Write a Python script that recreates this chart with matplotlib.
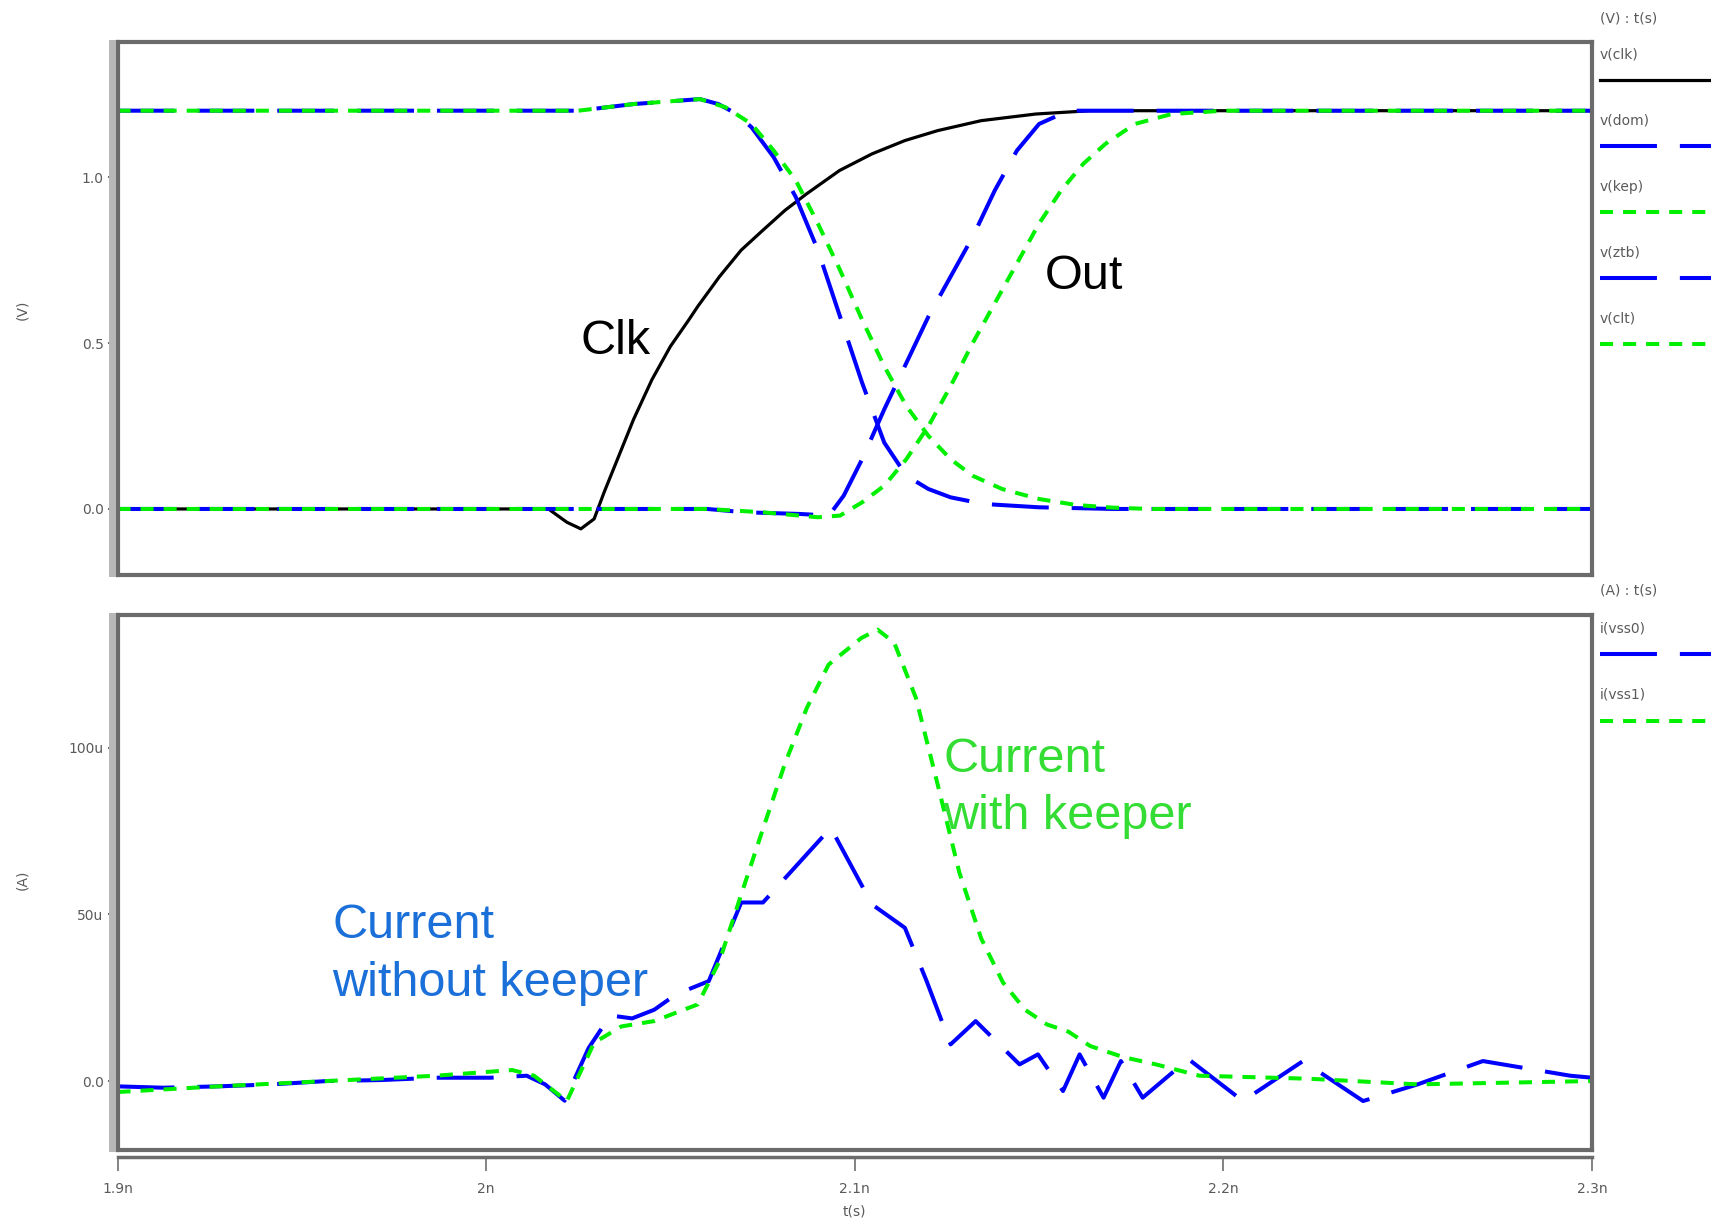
import matplotlib
matplotlib.use('Agg')
import matplotlib.pyplot as plt
from matplotlib.lines import Line2D
from matplotlib.patches import Rectangle

plt.rcParams['lines.scale_dashes'] = False

# --- waveform data (time in ns, voltage in V, current in uA) ---
clk_t = [1.9, 2.0169, 2.0219, 2.0257, 2.0293, 2.032, 2.036, 2.04, 2.045, 2.05, 2.055, 2.0574,
         2.0633, 2.0692, 2.0751, 2.0811, 2.087, 2.0959, 2.1047, 2.1136, 2.1225, 2.1343, 2.1491,
         2.1639, 2.3]
clk_v = [0, 0, -0.04, -0.06, -0.03, 0.05, 0.16, 0.27, 0.39, 0.49, 0.57, 0.61,
         0.70, 0.78, 0.84, 0.90, 0.95, 1.02, 1.07, 1.11, 1.14, 1.17, 1.19,
         1.2, 1.2]

dom_t = [1.9, 2.025, 2.04, 2.058, 2.063, 2.068, 2.072, 2.078, 2.084, 2.09, 2.096, 2.102,
         2.108, 2.114, 2.12, 2.126, 2.135, 2.15, 2.17, 2.3]
dom_v = [1.2, 1.2, 1.22, 1.235, 1.22, 1.19, 1.15, 1.06, 0.94, 0.78, 0.58, 0.38,
         0.2, 0.1, 0.06, 0.035, 0.015, 0.005, 0, 0]

kep_t = [1.9, 2.025, 2.04, 2.058, 2.065, 2.072, 2.078, 2.084, 2.09, 2.096, 2.102, 2.108,
         2.114, 2.12, 2.126, 2.132, 2.14, 2.15, 2.16, 2.17, 2.18, 2.3]
kep_v = [1.2, 1.2, 1.22, 1.235, 1.21, 1.16, 1.08, 0.99, 0.86, 0.72, 0.57, 0.43,
         0.31, 0.22, 0.15, 0.1, 0.06, 0.03, 0.012, 0.004, 0, 0]

ztb_t = [1.9, 2.06, 2.07, 2.085, 2.093, 2.097, 2.102, 2.108, 2.114, 2.12, 2.126, 2.132,
         2.138, 2.144, 2.15, 2.158, 2.3]
ztb_v = [0, 0, -0.01, -0.015, -0.02, 0.04, 0.15, 0.30, 0.44, 0.58, 0.70, 0.82,
         0.96, 1.08, 1.16, 1.2, 1.2]

clt_t = [1.9, 2.06, 2.075, 2.09, 2.096, 2.102, 2.108, 2.114, 2.12, 2.126, 2.132, 2.138,
         2.144, 2.15, 2.156, 2.162, 2.168, 2.176, 2.186, 2.2, 2.3]
clt_v = [0, 0, -0.01, -0.025, -0.02, 0.02, 0.07, 0.15, 0.25, 0.37, 0.5, 0.62,
         0.74, 0.86, 0.96, 1.04, 1.1, 1.16, 1.19, 1.2, 1.2]

i0_t = [1.9, 1.9124, 1.9272, 1.942, 1.9568, 1.9716, 1.9864, 2.0012, 2.011, 2.016, 2.0213,
        2.0278, 2.0337, 2.0396, 2.0456, 2.0515, 2.0604, 2.0692, 2.0751, 2.0935, 2.1047,
        2.1136, 2.1195, 2.126, 2.1328, 2.1447, 2.1497, 2.1565, 2.161, 2.1675, 2.1722,
        2.1781, 2.1905, 2.2053, 2.2216, 2.2379, 2.2527, 2.2704, 2.2941, 2.3]
i0_a = [-1.6, -2, -1.6, -1, 0, 0.3, 1, 1, 1.6, -1, -5.9,
        9.9, 19.7, 18.8, 21.4, 26, 30, 53.6, 53.6, 76, 53,
        46, 30, 11, 18, 5, 8, -3, 8, -5, 6,
        -5, 6.6, -6, 6, -6, -1, 6, 1.6, 1]

i1_t = [1.9, 1.9272, 1.9568, 1.9864, 2.0071, 2.013, 2.0219, 2.0293, 2.0367, 2.0456, 2.0574,
        2.0633, 2.0692, 2.0751, 2.0811, 2.087, 2.0929, 2.1018, 2.1062, 2.1107, 2.1166,
        2.1225, 2.1284, 2.1343, 2.1402, 2.1462, 2.1521, 2.158, 2.1639, 2.1728, 2.1817,
        2.1935, 2.2231, 2.2527, 2.3]
i1_a = [-3.3, -1.6, 0, 1.6, 3.3, 1.6, -6, 11.5, 16.4, 18, 23,
        36, 56, 75.7, 95.4, 112, 125, 133, 135.5, 131.6, 115,
        89, 62.5, 42.8, 29.6, 21.4, 17, 14.8, 10.5, 7.2, 5,
        1.6, 0.7, -1, 0]

x_ticks = [1.9, 2.0, 2.1, 2.2, 2.3]
x_labels = ['1.9n', '2n', '2.1n', '2.2n', '2.3n']
v_ticks = [0.0, 0.5, 1.0]
v_labels = ['0.0', '0.5', '1.0']
i_ticks = [0, 50, 100]
i_labels = ['0.0', '50u', '100u']

W, H = 1711, 1229
BLUE = '#0000ff'
GREEN = '#00f000'
FRAME = '#6b6b6b'
TXT = '#5a5a5a'
BLUE_DASH = (41, 16.5)
GREEN_DOT = (9.4, 7.2)


def fx(px):
    return px / W


def fy(py):
    return 1 - py / H


fig = plt.figure(figsize=(W / 100, H / 100), dpi=100)
ax1 = fig.add_axes([fx(117.5), fy(575), (1592 - 117.5) / W, (575 - 42) / H])
ax2 = fig.add_axes([fx(117.5), fy(1150), (1592 - 117.5) / W, (1150 - 615) / H])

for ax in (ax1, ax2):
    ax.set_xlim(1.9, 2.3)
    for s in ax.spines.values():
        s.set_color(FRAME)
        s.set_linewidth(3)
    ax.tick_params(axis='y', length=7, width=1.5, color=FRAME, pad=3,
                   labelsize=10, labelcolor=TXT)

# voltage panel
ax1.plot(clk_t, clk_v, color='black', lw=2.3)
ax1.plot(dom_t, dom_v, color=BLUE, lw=2.9, dashes=BLUE_DASH)
ax1.plot(kep_t, kep_v, color=GREEN, lw=2.9, dashes=GREEN_DOT)
ax1.plot(ztb_t, ztb_v, color=BLUE, lw=2.9, dashes=BLUE_DASH)
ax1.plot(clt_t, clt_v, color=GREEN, lw=2.9, dashes=GREEN_DOT)
ax1.set_ylim(-0.199, 1.407)
ax1.set_yticks(v_ticks)
ax1.set_yticklabels(v_labels)
ax1.set_xticks([])
ax1.text(2.035, 0.505, 'Clk', fontsize=35, family='Liberation Sans', ha='center', va='center')
ax1.text(2.1515, 0.70, 'Out', fontsize=35, family='Liberation Sans', ha='left', va='center')

# current panel
ax2.plot(i0_t, i0_a, color=BLUE, lw=2.9, dashes=BLUE_DASH)
ax2.plot(i1_t, i1_a, color=GREEN, lw=2.9, dashes=GREEN_DOT)
ax2.set_ylim(-20.7, 139.9)
ax2.set_yticks(i_ticks)
ax2.set_yticklabels(i_labels)
ax2.spines['bottom'].set_position(('outward', 5))
ax2.spines['bottom'].set_linewidth(2.5)
ax2.plot([0, 1], [0, 0], transform=ax2.transAxes, color=FRAME, lw=3, clip_on=False)
ax2.set_xticks(x_ticks)
ax2.set_xticklabels(x_labels)
ax2.tick_params(axis='x', length=10, width=1.3, color='#7a7a7a', pad=8,
                labelsize=10, labelcolor=TXT)
ax2.set_xlabel('t(s)', fontsize=10, color=TXT, labelpad=6)
ax2.text(2.124, 88.0, 'Current\nwith keeper', fontsize=35, family='Liberation Sans',
         color='#33dd33', ha='left', va='center', linespacing=1.35)
ax2.text(1.9583, 38.0, 'Current\nwithout keeper', fontsize=35, family='Liberation Sans',
         color='#1a6fd8', ha='left', va='center', linespacing=1.35)

# light grey bevel on the left of each frame
for top, bot in ((40, 577), (613, 1152)):
    fig.add_artist(Rectangle((fx(109), fy(bot)), 7 / W, (bot - top) / H,
                             transform=fig.transFigure, color='#b8b8b8', lw=0))

fig.text(fx(22), fy(310), '(V)', rotation=90, fontsize=10, color=TXT, ha='center', va='center')
fig.text(fx(22), fy(880), '(A)', rotation=90, fontsize=10, color=TXT, ha='center', va='center')

# legend column on the right
fig.text(fx(1600), fy(18), '(V) : t(s)', fontsize=10, color=TXT, va='center')
v_legend = [('v(clk)', 'black', None, 2.3), ('v(dom)', BLUE, BLUE_DASH, 2.9),
            ('v(kep)', GREEN, GREEN_DOT, 2.9), ('v(ztb)', BLUE, BLUE_DASH, 2.9),
            ('v(clt)', GREEN, GREEN_DOT, 2.9)]
for k, (name, col, dash, lw) in enumerate(v_legend):
    ty = 55 + k * 66
    fig.text(fx(1600), fy(ty), name, fontsize=10, color=TXT, va='center')
    ln = Line2D([fx(1600), fx(1711)], [fy(ty + 25)] * 2, transform=fig.transFigure,
                color=col, lw=lw)
    if dash:
        ln.set_dashes(dash)
    fig.add_artist(ln)

fig.text(fx(1600), fy(590), '(A) : t(s)', fontsize=10, color=TXT, va='center')
i_legend = [('i(vss0)', BLUE, BLUE_DASH), ('i(vss1)', GREEN, GREEN_DOT)]
for k, (name, col, dash) in enumerate(i_legend):
    ty = 628 + k * 67
    fig.text(fx(1600), fy(ty), name, fontsize=10, color=TXT, va='center')
    ln = Line2D([fx(1600), fx(1711)], [fy(ty + 26)] * 2, transform=fig.transFigure,
                color=col, lw=2.9)
    ln.set_dashes(dash)
    fig.add_artist(ln)

fig.savefig('out.png', dpi=100)
